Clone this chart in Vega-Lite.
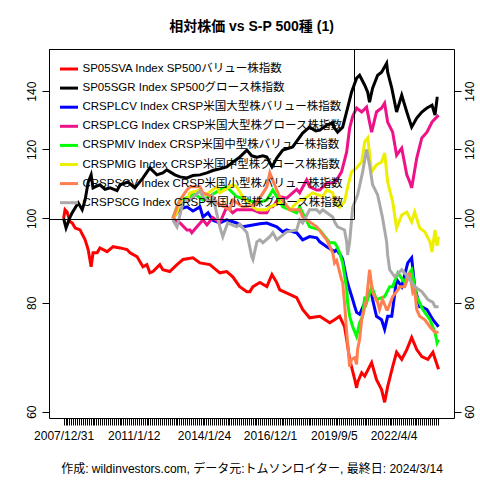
{
  "$schema": "https://vega.github.io/schema/vega-lite/v6.json",
  "width": 405,
  "height": 369,
  "autosize": "none",
  "padding": {"left": 49, "top": 49, "right": 26, "bottom": 62},
  "background": "white",
  "config": {
    "view": {"stroke": "black", "strokeWidth": 1},
    "font": "Liberation Sans, Noto Sans CJK JP"
  },
  "title": {
    "text": "相対株価 vs S-P 500種 (1)",
    "fontSize": 14,
    "fontWeight": "bold",
    "color": "black",
    "offset": 15
  },
  "datasets": {
    "rel": [
      {"d": "2007-12-31", "s": "SP05SVA", "v": 100},
      {"d": "2008-01-23", "s": "SP05SVA", "v": 102.3},
      {"d": "2008-02-24", "s": "SP05SVA", "v": 101.7},
      {"d": "2008-04-12", "s": "SP05SVA", "v": 99.1},
      {"d": "2008-05-15", "s": "SP05SVA", "v": 98.8},
      {"d": "2008-07-02", "s": "SP05SVA", "v": 97.5},
      {"d": "2008-09-16", "s": "SP05SVA", "v": 97.0},
      {"d": "2008-12-05", "s": "SP05SVA", "v": 94.5},
      {"d": "2009-01-22", "s": "SP05SVA", "v": 92.1},
      {"d": "2009-03-10", "s": "SP05SVA", "v": 88.0},
      {"d": "2009-04-09", "s": "SP05SVA", "v": 91.3},
      {"d": "2009-06-13", "s": "SP05SVA", "v": 91.3},
      {"d": "2009-07-27", "s": "SP05SVA", "v": 92.5},
      {"d": "2009-11-17", "s": "SP05SVA", "v": 91.6},
      {"d": "2010-02-20", "s": "SP05SVA", "v": 92.8},
      {"d": "2010-06-10", "s": "SP05SVA", "v": 92.5},
      {"d": "2010-09-27", "s": "SP05SVA", "v": 92.1},
      {"d": "2010-11-14", "s": "SP05SVA", "v": 91.3},
      {"d": "2011-03-03", "s": "SP05SVA", "v": 90.4},
      {"d": "2011-06-06", "s": "SP05SVA", "v": 88.0},
      {"d": "2011-08-07", "s": "SP05SVA", "v": 88.5},
      {"d": "2011-09-23", "s": "SP05SVA", "v": 86.6},
      {"d": "2011-11-10", "s": "SP05SVA", "v": 86.9},
      {"d": "2012-02-27", "s": "SP05SVA", "v": 88.5},
      {"d": "2012-04-15", "s": "SP05SVA", "v": 87.3},
      {"d": "2012-08-02", "s": "SP05SVA", "v": 86.9},
      {"d": "2012-11-24", "s": "SP05SVA", "v": 88.5},
      {"d": "2013-02-27", "s": "SP05SVA", "v": 89.7},
      {"d": "2013-08-03", "s": "SP05SVA", "v": 90.1},
      {"d": "2013-11-21", "s": "SP05SVA", "v": 88.9},
      {"d": "2014-04-27", "s": "SP05SVA", "v": 88.5},
      {"d": "2014-10-01", "s": "SP05SVA", "v": 86.6},
      {"d": "2015-01-18", "s": "SP05SVA", "v": 86.9},
      {"d": "2015-04-23", "s": "SP05SVA", "v": 85.7},
      {"d": "2015-08-11", "s": "SP05SVA", "v": 83.5},
      {"d": "2015-12-02", "s": "SP05SVA", "v": 82.4},
      {"d": "2016-01-18", "s": "SP05SVA", "v": 82.4},
      {"d": "2016-03-07", "s": "SP05SVA", "v": 83.5},
      {"d": "2016-06-24", "s": "SP05SVA", "v": 84.4},
      {"d": "2016-10-12", "s": "SP05SVA", "v": 83.5},
      {"d": "2017-01-01", "s": "SP05SVA", "v": 86.2},
      {"d": "2017-03-18", "s": "SP05SVA", "v": 84.4},
      {"d": "2017-05-04", "s": "SP05SVA", "v": 82.8},
      {"d": "2017-10-08", "s": "SP05SVA", "v": 81.8},
      {"d": "2018-01-26", "s": "SP05SVA", "v": 81.1},
      {"d": "2018-04-30", "s": "SP05SVA", "v": 78.6},
      {"d": "2018-08-18", "s": "SP05SVA", "v": 76.9},
      {"d": "2019-01-26", "s": "SP05SVA", "v": 77.2},
      {"d": "2019-07-02", "s": "SP05SVA", "v": 75.9},
      {"d": "2019-09-16", "s": "SP05SVA", "v": 76.5},
      {"d": "2019-12-05", "s": "SP05SVA", "v": 77.2},
      {"d": "2020-02-20", "s": "SP05SVA", "v": 75.1},
      {"d": "2020-03-25", "s": "SP05SVA", "v": 72.6},
      {"d": "2020-05-11", "s": "SP05SVA", "v": 68.9},
      {"d": "2020-07-31", "s": "SP05SVA", "v": 65.3},
      {"d": "2020-08-29", "s": "SP05SVA", "v": 63.9},
      {"d": "2020-09-13", "s": "SP05SVA", "v": 64.8},
      {"d": "2020-11-17", "s": "SP05SVA", "v": 66.5},
      {"d": "2021-01-04", "s": "SP05SVA", "v": 65.9},
      {"d": "2021-04-23", "s": "SP05SVA", "v": 68.3},
      {"d": "2021-07-09", "s": "SP05SVA", "v": 65.3},
      {"d": "2021-09-27", "s": "SP05SVA", "v": 63.6},
      {"d": "2021-11-14", "s": "SP05SVA", "v": 61.5},
      {"d": "2022-01-01", "s": "SP05SVA", "v": 64.1},
      {"d": "2022-03-21", "s": "SP05SVA", "v": 67.6},
      {"d": "2022-05-22", "s": "SP05SVA", "v": 70.2},
      {"d": "2022-08-11", "s": "SP05SVA", "v": 68.9},
      {"d": "2022-10-30", "s": "SP05SVA", "v": 70.7},
      {"d": "2023-01-15", "s": "SP05SVA", "v": 73.0},
      {"d": "2023-04-05", "s": "SP05SVA", "v": 70.7},
      {"d": "2023-06-24", "s": "SP05SVA", "v": 69.4},
      {"d": "2023-09-27", "s": "SP05SVA", "v": 68.9},
      {"d": "2023-12-16", "s": "SP05SVA", "v": 70.2},
      {"d": "2024-03-14", "s": "SP05SVA", "v": 67.1},

      {"d": "2007-12-31", "s": "SP05SGR", "v": 100},
      {"d": "2008-02-08", "s": "SP05SGR", "v": 97.5},
      {"d": "2008-04-12", "s": "SP05SGR", "v": 100.4},
      {"d": "2008-05-15", "s": "SP05SGR", "v": 101.5},
      {"d": "2008-08-18", "s": "SP05SGR", "v": 104.2},
      {"d": "2008-10-20", "s": "SP05SGR", "v": 102.3},
      {"d": "2008-12-05", "s": "SP05SGR", "v": 105.0},
      {"d": "2009-01-22", "s": "SP05SGR", "v": 110.0},
      {"d": "2009-03-10", "s": "SP05SGR", "v": 112.2},
      {"d": "2009-04-09", "s": "SP05SGR", "v": 108.4},
      {"d": "2009-05-11", "s": "SP05SGR", "v": 108.7},
      {"d": "2009-07-27", "s": "SP05SGR", "v": 109.3},
      {"d": "2009-10-15", "s": "SP05SGR", "v": 108.0},
      {"d": "2010-01-04", "s": "SP05SGR", "v": 108.4},
      {"d": "2010-04-23", "s": "SP05SGR", "v": 107.6},
      {"d": "2010-06-10", "s": "SP05SGR", "v": 109.3},
      {"d": "2010-10-12", "s": "SP05SGR", "v": 110.1},
      {"d": "2011-01-29", "s": "SP05SGR", "v": 108.4},
      {"d": "2011-06-06", "s": "SP05SGR", "v": 111.3},
      {"d": "2011-09-23", "s": "SP05SGR", "v": 114.3},
      {"d": "2012-01-11", "s": "SP05SGR", "v": 112.2},
      {"d": "2012-04-15", "s": "SP05SGR", "v": 112.8},
      {"d": "2012-06-16", "s": "SP05SGR", "v": 113.7},
      {"d": "2012-10-22", "s": "SP05SGR", "v": 112.2},
      {"d": "2013-01-11", "s": "SP05SGR", "v": 111.6},
      {"d": "2013-04-30", "s": "SP05SGR", "v": 111.3},
      {"d": "2013-08-03", "s": "SP05SGR", "v": 112.0},
      {"d": "2013-11-21", "s": "SP05SGR", "v": 112.2},
      {"d": "2014-03-11", "s": "SP05SGR", "v": 112.8},
      {"d": "2014-06-13", "s": "SP05SGR", "v": 113.5},
      {"d": "2014-10-01", "s": "SP05SGR", "v": 114.0},
      {"d": "2015-01-18", "s": "SP05SGR", "v": 114.6},
      {"d": "2015-04-23", "s": "SP05SGR", "v": 116.0},
      {"d": "2015-08-11", "s": "SP05SGR", "v": 117.6},
      {"d": "2015-12-02", "s": "SP05SGR", "v": 119.8},
      {"d": "2016-02-16", "s": "SP05SGR", "v": 118.0},
      {"d": "2016-05-08", "s": "SP05SGR", "v": 117.6},
      {"d": "2016-08-11", "s": "SP05SGR", "v": 118.0},
      {"d": "2016-10-12", "s": "SP05SGR", "v": 117.6},
      {"d": "2017-01-01", "s": "SP05SGR", "v": 114.6},
      {"d": "2017-03-18", "s": "SP05SGR", "v": 117.3},
      {"d": "2017-06-21", "s": "SP05SGR", "v": 119.8},
      {"d": "2017-11-24", "s": "SP05SGR", "v": 120.8},
      {"d": "2018-04-30", "s": "SP05SGR", "v": 125.3},
      {"d": "2018-08-18", "s": "SP05SGR", "v": 127.3},
      {"d": "2018-11-24", "s": "SP05SGR", "v": 126.0},
      {"d": "2019-01-26", "s": "SP05SGR", "v": 126.3},
      {"d": "2019-05-15", "s": "SP05SGR", "v": 128.0},
      {"d": "2019-08-18", "s": "SP05SGR", "v": 128.7},
      {"d": "2019-09-16", "s": "SP05SGR", "v": 127.0},
      {"d": "2019-11-03", "s": "SP05SGR", "v": 125.6},
      {"d": "2020-01-22", "s": "SP05SGR", "v": 127.3},
      {"d": "2020-04-09", "s": "SP05SGR", "v": 133.9},
      {"d": "2020-06-10", "s": "SP05SGR", "v": 139.6},
      {"d": "2020-08-29", "s": "SP05SGR", "v": 144.9},
      {"d": "2020-10-15", "s": "SP05SGR", "v": 146.0},
      {"d": "2021-01-04", "s": "SP05SGR", "v": 142.2},
      {"d": "2021-02-20", "s": "SP05SGR", "v": 139.6},
      {"d": "2021-03-21", "s": "SP05SGR", "v": 136.0},
      {"d": "2021-05-08", "s": "SP05SGR", "v": 141.1},
      {"d": "2021-07-27", "s": "SP05SGR", "v": 146.0},
      {"d": "2021-09-27", "s": "SP05SGR", "v": 147.2},
      {"d": "2021-12-16", "s": "SP05SGR", "v": 150.7},
      {"d": "2022-01-01", "s": "SP05SGR", "v": 147.2},
      {"d": "2022-03-07", "s": "SP05SGR", "v": 141.1},
      {"d": "2022-05-22", "s": "SP05SGR", "v": 132.5},
      {"d": "2022-08-11", "s": "SP05SGR", "v": 138.5},
      {"d": "2022-10-30", "s": "SP05SGR", "v": 132.5},
      {"d": "2023-01-15", "s": "SP05SGR", "v": 127.3},
      {"d": "2023-04-05", "s": "SP05SGR", "v": 130.4},
      {"d": "2023-06-24", "s": "SP05SGR", "v": 132.5},
      {"d": "2023-09-13", "s": "SP05SGR", "v": 133.9},
      {"d": "2023-12-02", "s": "SP05SGR", "v": 134.9},
      {"d": "2024-01-18", "s": "SP05SGR", "v": 131.4},
      {"d": "2024-02-20", "s": "SP05SGR", "v": 137.4},
      {"d": "2024-03-14", "s": "SP05SGR", "v": 137.4},

      {"d": "2012-09-19", "s": "CRSPLCV", "v": 100},
      {"d": "2013-01-11", "s": "CRSPLCV", "v": 102.5},
      {"d": "2013-04-30", "s": "CRSPLCV", "v": 103.1},
      {"d": "2013-08-03", "s": "CRSPLCV", "v": 102.0},
      {"d": "2013-11-21", "s": "CRSPLCV", "v": 103.1},
      {"d": "2014-01-08", "s": "CRSPLCV", "v": 100.4},
      {"d": "2014-03-29", "s": "CRSPLCV", "v": 101.5},
      {"d": "2014-06-13", "s": "CRSPLCV", "v": 99.5},
      {"d": "2014-10-01", "s": "CRSPLCV", "v": 98.8},
      {"d": "2015-01-18", "s": "CRSPLCV", "v": 99.6},
      {"d": "2015-06-24", "s": "CRSPLCV", "v": 98.8},
      {"d": "2015-09-27", "s": "CRSPLCV", "v": 97.8},
      {"d": "2016-03-07", "s": "CRSPLCV", "v": 98.3},
      {"d": "2016-06-24", "s": "CRSPLCV", "v": 98.6},
      {"d": "2016-10-12", "s": "CRSPLCV", "v": 98.8},
      {"d": "2017-03-18", "s": "CRSPLCV", "v": 97.8},
      {"d": "2017-06-21", "s": "CRSPLCV", "v": 96.5},
      {"d": "2017-08-22", "s": "CRSPLCV", "v": 97.0},
      {"d": "2017-11-24", "s": "CRSPLCV", "v": 96.5},
      {"d": "2018-01-26", "s": "CRSPLCV", "v": 96.3},
      {"d": "2018-04-30", "s": "CRSPLCV", "v": 94.5},
      {"d": "2018-08-18", "s": "CRSPLCV", "v": 95.3},
      {"d": "2018-12-09", "s": "CRSPLCV", "v": 95.0},
      {"d": "2019-01-26", "s": "CRSPLCV", "v": 94.0},
      {"d": "2019-05-15", "s": "CRSPLCV", "v": 92.8},
      {"d": "2019-09-16", "s": "CRSPLCV", "v": 91.6},
      {"d": "2019-10-19", "s": "CRSPLCV", "v": 92.1},
      {"d": "2020-01-04", "s": "CRSPLCV", "v": 90.4},
      {"d": "2020-01-22", "s": "CRSPLCV", "v": 89.7},
      {"d": "2020-03-25", "s": "CRSPLCV", "v": 85.1},
      {"d": "2020-05-11", "s": "CRSPLCV", "v": 82.8},
      {"d": "2020-06-28", "s": "CRSPLCV", "v": 80.7},
      {"d": "2020-07-31", "s": "CRSPLCV", "v": 79.2},
      {"d": "2020-08-29", "s": "CRSPLCV", "v": 78.0},
      {"d": "2020-10-15", "s": "CRSPLCV", "v": 77.6},
      {"d": "2021-01-04", "s": "CRSPLCV", "v": 80.0},
      {"d": "2021-03-21", "s": "CRSPLCV", "v": 82.2},
      {"d": "2021-04-23", "s": "CRSPLCV", "v": 81.8},
      {"d": "2021-05-08", "s": "CRSPLCV", "v": 80.7},
      {"d": "2021-07-09", "s": "CRSPLCV", "v": 77.2},
      {"d": "2021-09-27", "s": "CRSPLCV", "v": 76.5},
      {"d": "2021-11-14", "s": "CRSPLCV", "v": 74.6},
      {"d": "2022-01-01", "s": "CRSPLCV", "v": 77.2},
      {"d": "2022-03-07", "s": "CRSPLCV", "v": 77.2},
      {"d": "2022-05-22", "s": "CRSPLCV", "v": 85.1},
      {"d": "2022-08-11", "s": "CRSPLCV", "v": 83.5},
      {"d": "2022-11-14", "s": "CRSPLCV", "v": 88.9},
      {"d": "2023-01-15", "s": "CRSPLCV", "v": 90.1},
      {"d": "2023-03-03", "s": "CRSPLCV", "v": 83.5},
      {"d": "2023-05-22", "s": "CRSPLCV", "v": 79.2},
      {"d": "2023-06-24", "s": "CRSPLCV", "v": 79.2},
      {"d": "2023-09-13", "s": "CRSPLCV", "v": 78.6},
      {"d": "2023-12-16", "s": "CRSPLCV", "v": 76.5},
      {"d": "2024-03-14", "s": "CRSPLCV", "v": 75.1},

      {"d": "2012-09-19", "s": "CRSPLCG", "v": 100},
      {"d": "2013-01-11", "s": "CRSPLCG", "v": 98.8},
      {"d": "2013-04-30", "s": "CRSPLCG", "v": 97.0},
      {"d": "2013-06-17", "s": "CRSPLCG", "v": 97.0},
      {"d": "2013-07-16", "s": "CRSPLCG", "v": 96.3},
      {"d": "2013-10-04", "s": "CRSPLCG", "v": 97.8},
      {"d": "2014-01-08", "s": "CRSPLCG", "v": 99.6},
      {"d": "2014-03-11", "s": "CRSPLCG", "v": 98.3},
      {"d": "2014-06-13", "s": "CRSPLCG", "v": 100.2},
      {"d": "2014-10-01", "s": "CRSPLCG", "v": 98.8},
      {"d": "2015-01-18", "s": "CRSPLCG", "v": 103.1},
      {"d": "2015-04-23", "s": "CRSPLCG", "v": 101.5},
      {"d": "2015-06-24", "s": "CRSPLCG", "v": 102.3},
      {"d": "2016-01-18", "s": "CRSPLCG", "v": 102.3},
      {"d": "2016-03-07", "s": "CRSPLCG", "v": 102.3},
      {"d": "2016-06-24", "s": "CRSPLCG", "v": 101.5},
      {"d": "2016-10-12", "s": "CRSPLCG", "v": 101.5},
      {"d": "2016-11-28", "s": "CRSPLCG", "v": 103.1},
      {"d": "2017-01-15", "s": "CRSPLCG", "v": 103.1},
      {"d": "2017-05-04", "s": "CRSPLCG", "v": 105.9},
      {"d": "2017-08-22", "s": "CRSPLCG", "v": 105.5},
      {"d": "2018-01-26", "s": "CRSPLCG", "v": 108.0},
      {"d": "2018-03-14", "s": "CRSPLCG", "v": 107.0},
      {"d": "2018-07-02", "s": "CRSPLCG", "v": 110.7},
      {"d": "2018-08-18", "s": "CRSPLCG", "v": 108.7},
      {"d": "2018-12-09", "s": "CRSPLCG", "v": 107.8},
      {"d": "2019-01-26", "s": "CRSPLCG", "v": 107.8},
      {"d": "2019-05-15", "s": "CRSPLCG", "v": 109.8},
      {"d": "2019-08-18", "s": "CRSPLCG", "v": 109.8},
      {"d": "2019-09-16", "s": "CRSPLCG", "v": 110.1},
      {"d": "2019-10-19", "s": "CRSPLCG", "v": 110.7},
      {"d": "2020-01-04", "s": "CRSPLCG", "v": 113.1},
      {"d": "2020-03-25", "s": "CRSPLCG", "v": 119.2},
      {"d": "2020-05-11", "s": "CRSPLCG", "v": 127.0},
      {"d": "2020-06-28", "s": "CRSPLCG", "v": 131.0},
      {"d": "2020-08-29", "s": "CRSPLCG", "v": 133.9},
      {"d": "2020-11-17", "s": "CRSPLCG", "v": 132.5},
      {"d": "2021-02-02", "s": "CRSPLCG", "v": 134.2},
      {"d": "2021-03-21", "s": "CRSPLCG", "v": 129.0},
      {"d": "2021-04-23", "s": "CRSPLCG", "v": 125.6},
      {"d": "2021-07-09", "s": "CRSPLCG", "v": 132.5},
      {"d": "2021-09-27", "s": "CRSPLCG", "v": 133.9},
      {"d": "2021-11-14", "s": "CRSPLCG", "v": 135.6},
      {"d": "2022-01-01", "s": "CRSPLCG", "v": 129.0},
      {"d": "2022-03-21", "s": "CRSPLCG", "v": 125.6},
      {"d": "2022-05-22", "s": "CRSPLCG", "v": 118.2},
      {"d": "2022-08-11", "s": "CRSPLCG", "v": 120.4},
      {"d": "2022-10-30", "s": "CRSPLCG", "v": 112.2},
      {"d": "2022-12-16", "s": "CRSPLCG", "v": 110.1},
      {"d": "2023-01-15", "s": "CRSPLCG", "v": 108.4},
      {"d": "2023-04-05", "s": "CRSPLCG", "v": 117.3},
      {"d": "2023-06-24", "s": "CRSPLCG", "v": 123.7},
      {"d": "2023-09-13", "s": "CRSPLCG", "v": 125.6},
      {"d": "2023-12-02", "s": "CRSPLCG", "v": 129.0},
      {"d": "2024-03-14", "s": "CRSPLCG", "v": 131.4},

      {"d": "2012-09-19", "s": "CRSPMIV", "v": 100},
      {"d": "2012-11-24", "s": "CRSPMIV", "v": 103.1},
      {"d": "2013-01-11", "s": "CRSPMIV", "v": 105.0},
      {"d": "2013-06-17", "s": "CRSPMIV", "v": 105.9},
      {"d": "2013-08-03", "s": "CRSPMIV", "v": 107.0},
      {"d": "2014-01-08", "s": "CRSPMIV", "v": 105.0},
      {"d": "2014-10-01", "s": "CRSPMIV", "v": 107.8},
      {"d": "2015-01-18", "s": "CRSPMIV", "v": 108.7},
      {"d": "2015-06-24", "s": "CRSPMIV", "v": 105.9},
      {"d": "2016-05-08", "s": "CRSPMIV", "v": 104.2},
      {"d": "2016-10-12", "s": "CRSPMIV", "v": 105.0},
      {"d": "2017-01-15", "s": "CRSPMIV", "v": 107.8},
      {"d": "2017-06-21", "s": "CRSPMIV", "v": 103.1},
      {"d": "2018-01-26", "s": "CRSPMIV", "v": 101.5},
      {"d": "2018-03-14", "s": "CRSPMIV", "v": 103.1},
      {"d": "2018-08-18", "s": "CRSPMIV", "v": 97.8},
      {"d": "2019-01-26", "s": "CRSPMIV", "v": 97.0},
      {"d": "2019-07-02", "s": "CRSPMIV", "v": 93.8},
      {"d": "2019-09-16", "s": "CRSPMIV", "v": 93.8},
      {"d": "2019-10-19", "s": "CRSPMIV", "v": 93.0},
      {"d": "2019-12-05", "s": "CRSPMIV", "v": 91.3},
      {"d": "2020-01-22", "s": "CRSPMIV", "v": 88.9},
      {"d": "2020-03-25", "s": "CRSPMIV", "v": 83.0},
      {"d": "2020-04-09", "s": "CRSPMIV", "v": 80.1},
      {"d": "2020-05-11", "s": "CRSPMIV", "v": 77.2},
      {"d": "2020-06-28", "s": "CRSPMIV", "v": 75.1},
      {"d": "2020-08-29", "s": "CRSPMIV", "v": 73.2},
      {"d": "2020-10-15", "s": "CRSPMIV", "v": 75.9},
      {"d": "2020-12-02", "s": "CRSPMIV", "v": 77.2},
      {"d": "2021-01-04", "s": "CRSPMIV", "v": 81.3},
      {"d": "2021-02-02", "s": "CRSPMIV", "v": 80.0},
      {"d": "2021-04-23", "s": "CRSPMIV", "v": 83.5},
      {"d": "2021-07-09", "s": "CRSPMIV", "v": 80.7},
      {"d": "2021-11-14", "s": "CRSPMIV", "v": 81.3},
      {"d": "2022-02-02", "s": "CRSPMIV", "v": 83.5},
      {"d": "2022-03-21", "s": "CRSPMIV", "v": 83.5},
      {"d": "2022-06-10", "s": "CRSPMIV", "v": 86.6},
      {"d": "2022-09-27", "s": "CRSPMIV", "v": 84.4},
      {"d": "2022-10-30", "s": "CRSPMIV", "v": 85.7},
      {"d": "2023-01-15", "s": "CRSPMIV", "v": 87.3},
      {"d": "2023-04-05", "s": "CRSPMIV", "v": 81.3},
      {"d": "2023-07-09", "s": "CRSPMIV", "v": 78.6},
      {"d": "2023-10-30", "s": "CRSPMIV", "v": 76.5},
      {"d": "2024-01-18", "s": "CRSPMIV", "v": 74.0},
      {"d": "2024-02-20", "s": "CRSPMIV", "v": 72.0},
      {"d": "2024-03-14", "s": "CRSPMIV", "v": 72.6},

      {"d": "2012-09-19", "s": "CRSPMIG", "v": 100},
      {"d": "2012-11-24", "s": "CRSPMIG", "v": 101.5},
      {"d": "2013-01-11", "s": "CRSPMIG", "v": 104.2},
      {"d": "2013-04-30", "s": "CRSPMIG", "v": 105.0},
      {"d": "2013-06-17", "s": "CRSPMIG", "v": 107.0},
      {"d": "2013-11-21", "s": "CRSPMIG", "v": 107.8},
      {"d": "2014-01-08", "s": "CRSPMIG", "v": 105.9},
      {"d": "2014-08-14", "s": "CRSPMIG", "v": 108.7},
      {"d": "2014-10-01", "s": "CRSPMIG", "v": 107.0},
      {"d": "2015-04-23", "s": "CRSPMIG", "v": 109.3},
      {"d": "2015-06-24", "s": "CRSPMIG", "v": 108.7},
      {"d": "2015-09-27", "s": "CRSPMIG", "v": 105.9},
      {"d": "2016-03-07", "s": "CRSPMIG", "v": 103.1},
      {"d": "2016-05-08", "s": "CRSPMIG", "v": 102.3},
      {"d": "2016-10-12", "s": "CRSPMIG", "v": 102.3},
      {"d": "2016-11-28", "s": "CRSPMIG", "v": 103.1},
      {"d": "2017-05-04", "s": "CRSPMIG", "v": 104.2},
      {"d": "2017-06-21", "s": "CRSPMIG", "v": 105.0},
      {"d": "2017-10-08", "s": "CRSPMIG", "v": 102.3},
      {"d": "2018-03-14", "s": "CRSPMIG", "v": 105.0},
      {"d": "2018-04-30", "s": "CRSPMIG", "v": 105.0},
      {"d": "2018-10-04", "s": "CRSPMIG", "v": 107.0},
      {"d": "2019-03-14", "s": "CRSPMIG", "v": 105.9},
      {"d": "2019-05-15", "s": "CRSPMIG", "v": 107.8},
      {"d": "2019-08-18", "s": "CRSPMIG", "v": 107.0},
      {"d": "2019-09-16", "s": "CRSPMIG", "v": 104.5},
      {"d": "2019-12-05", "s": "CRSPMIG", "v": 103.0},
      {"d": "2020-02-20", "s": "CRSPMIG", "v": 104.5},
      {"d": "2020-04-09", "s": "CRSPMIG", "v": 108.7},
      {"d": "2020-06-10", "s": "CRSPMIG", "v": 113.1},
      {"d": "2020-08-29", "s": "CRSPMIG", "v": 114.3},
      {"d": "2020-11-17", "s": "CRSPMIG", "v": 116.1},
      {"d": "2021-01-04", "s": "CRSPMIG", "v": 122.4},
      {"d": "2021-02-20", "s": "CRSPMIG", "v": 123.7},
      {"d": "2021-04-23", "s": "CRSPMIG", "v": 113.1},
      {"d": "2021-07-09", "s": "CRSPMIG", "v": 115.2},
      {"d": "2021-09-27", "s": "CRSPMIG", "v": 116.1},
      {"d": "2021-11-14", "s": "CRSPMIG", "v": 118.9},
      {"d": "2022-01-01", "s": "CRSPMIG", "v": 110.1},
      {"d": "2022-03-21", "s": "CRSPMIG", "v": 104.5},
      {"d": "2022-05-22", "s": "CRSPMIG", "v": 97.5},
      {"d": "2022-08-11", "s": "CRSPMIG", "v": 100.9},
      {"d": "2022-10-30", "s": "CRSPMIG", "v": 101.7},
      {"d": "2023-01-15", "s": "CRSPMIG", "v": 99.1},
      {"d": "2023-03-03", "s": "CRSPMIG", "v": 101.7},
      {"d": "2023-05-22", "s": "CRSPMIG", "v": 97.5},
      {"d": "2023-08-11", "s": "CRSPMIG", "v": 96.5},
      {"d": "2023-10-30", "s": "CRSPMIG", "v": 94.0},
      {"d": "2023-12-02", "s": "CRSPMIG", "v": 91.5},
      {"d": "2024-01-18", "s": "CRSPMIG", "v": 97.0},
      {"d": "2024-02-20", "s": "CRSPMIG", "v": 93.0},
      {"d": "2024-03-14", "s": "CRSPMIG", "v": 95.3},

      {"d": "2012-09-19", "s": "CRSPSCV", "v": 100},
      {"d": "2012-11-24", "s": "CRSPSCV", "v": 103.0},
      {"d": "2013-01-11", "s": "CRSPSCV", "v": 105.0},
      {"d": "2013-04-30", "s": "CRSPSCV", "v": 107.8},
      {"d": "2013-06-17", "s": "CRSPSCV", "v": 108.7},
      {"d": "2013-11-21", "s": "CRSPSCV", "v": 108.7},
      {"d": "2014-01-08", "s": "CRSPSCV", "v": 107.0},
      {"d": "2014-06-13", "s": "CRSPSCV", "v": 105.9},
      {"d": "2014-08-14", "s": "CRSPSCV", "v": 104.2},
      {"d": "2015-03-07", "s": "CRSPSCV", "v": 102.3},
      {"d": "2015-04-23", "s": "CRSPSCV", "v": 105.0},
      {"d": "2015-09-27", "s": "CRSPSCV", "v": 103.1},
      {"d": "2016-03-07", "s": "CRSPSCV", "v": 103.5},
      {"d": "2016-05-08", "s": "CRSPSCV", "v": 104.2},
      {"d": "2016-10-12", "s": "CRSPSCV", "v": 108.7},
      {"d": "2016-11-28", "s": "CRSPSCV", "v": 112.8},
      {"d": "2017-03-18", "s": "CRSPSCV", "v": 107.8},
      {"d": "2017-05-04", "s": "CRSPSCV", "v": 105.9},
      {"d": "2017-10-08", "s": "CRSPSCV", "v": 102.3},
      {"d": "2018-03-14", "s": "CRSPSCV", "v": 102.3},
      {"d": "2018-04-30", "s": "CRSPSCV", "v": 100.4},
      {"d": "2018-12-09", "s": "CRSPSCV", "v": 97.8},
      {"d": "2019-05-15", "s": "CRSPSCV", "v": 94.5},
      {"d": "2019-08-18", "s": "CRSPSCV", "v": 91.3},
      {"d": "2019-09-16", "s": "CRSPSCV", "v": 88.9},
      {"d": "2019-10-19", "s": "CRSPSCV", "v": 89.5},
      {"d": "2020-01-04", "s": "CRSPSCV", "v": 85.1},
      {"d": "2020-01-22", "s": "CRSPSCV", "v": 84.4},
      {"d": "2020-02-20", "s": "CRSPSCV", "v": 80.1},
      {"d": "2020-03-25", "s": "CRSPSCV", "v": 74.0},
      {"d": "2020-04-09", "s": "CRSPSCV", "v": 72.0},
      {"d": "2020-05-11", "s": "CRSPSCV", "v": 67.6},
      {"d": "2020-06-10", "s": "CRSPSCV", "v": 68.9},
      {"d": "2020-07-31", "s": "CRSPSCV", "v": 69.2},
      {"d": "2020-08-29", "s": "CRSPSCV", "v": 68.0},
      {"d": "2020-09-13", "s": "CRSPSCV", "v": 70.7},
      {"d": "2020-10-15", "s": "CRSPSCV", "v": 72.6},
      {"d": "2020-11-17", "s": "CRSPSCV", "v": 76.5},
      {"d": "2021-02-02", "s": "CRSPSCV", "v": 80.7},
      {"d": "2021-03-21", "s": "CRSPSCV", "v": 87.3},
      {"d": "2021-05-08", "s": "CRSPSCV", "v": 82.2},
      {"d": "2021-07-27", "s": "CRSPSCV", "v": 80.1},
      {"d": "2021-08-25", "s": "CRSPSCV", "v": 78.6},
      {"d": "2021-10-12", "s": "CRSPSCV", "v": 80.7},
      {"d": "2021-12-16", "s": "CRSPSCV", "v": 78.6},
      {"d": "2022-01-01", "s": "CRSPSCV", "v": 78.6},
      {"d": "2022-03-21", "s": "CRSPSCV", "v": 81.3},
      {"d": "2022-06-10", "s": "CRSPSCV", "v": 82.8},
      {"d": "2022-07-09", "s": "CRSPSCV", "v": 83.5},
      {"d": "2022-09-27", "s": "CRSPSCV", "v": 83.5},
      {"d": "2022-12-16", "s": "CRSPSCV", "v": 86.6},
      {"d": "2023-02-02", "s": "CRSPSCV", "v": 82.2},
      {"d": "2023-03-03", "s": "CRSPSCV", "v": 82.8},
      {"d": "2023-04-05", "s": "CRSPSCV", "v": 78.6},
      {"d": "2023-05-22", "s": "CRSPSCV", "v": 77.2},
      {"d": "2023-08-11", "s": "CRSPSCV", "v": 76.5},
      {"d": "2023-10-30", "s": "CRSPSCV", "v": 75.1},
      {"d": "2024-01-18", "s": "CRSPSCV", "v": 74.0},
      {"d": "2024-03-14", "s": "CRSPSCV", "v": 74.0},

      {"d": "2012-09-19", "s": "CRSPSCG", "v": 99.6},
      {"d": "2012-11-24", "s": "CRSPSCG", "v": 97.8},
      {"d": "2013-02-27", "s": "CRSPSCG", "v": 104.2},
      {"d": "2013-04-30", "s": "CRSPSCG", "v": 105.0},
      {"d": "2013-06-17", "s": "CRSPSCG", "v": 105.0},
      {"d": "2013-11-21", "s": "CRSPSCG", "v": 107.5},
      {"d": "2014-01-08", "s": "CRSPSCG", "v": 105.9},
      {"d": "2014-04-27", "s": "CRSPSCG", "v": 104.2},
      {"d": "2014-06-13", "s": "CRSPSCG", "v": 106.0},
      {"d": "2014-10-01", "s": "CRSPSCG", "v": 97.8},
      {"d": "2014-11-17", "s": "CRSPSCG", "v": 95.3},
      {"d": "2015-02-02", "s": "CRSPSCG", "v": 98.8},
      {"d": "2015-06-24", "s": "CRSPSCG", "v": 97.8},
      {"d": "2015-08-11", "s": "CRSPSCG", "v": 98.5},
      {"d": "2015-12-02", "s": "CRSPSCG", "v": 96.3},
      {"d": "2016-02-16", "s": "CRSPSCG", "v": 90.4},
      {"d": "2016-03-07", "s": "CRSPSCG", "v": 89.7},
      {"d": "2016-05-08", "s": "CRSPSCG", "v": 94.0},
      {"d": "2016-06-24", "s": "CRSPSCG", "v": 94.5},
      {"d": "2016-08-11", "s": "CRSPSCG", "v": 93.8},
      {"d": "2016-11-28", "s": "CRSPSCG", "v": 95.3},
      {"d": "2017-01-15", "s": "CRSPSCG", "v": 96.3},
      {"d": "2017-03-18", "s": "CRSPSCG", "v": 94.5},
      {"d": "2017-08-22", "s": "CRSPSCG", "v": 96.5},
      {"d": "2018-01-26", "s": "CRSPSCG", "v": 97.0},
      {"d": "2018-03-14", "s": "CRSPSCG", "v": 99.6},
      {"d": "2018-04-30", "s": "CRSPSCG", "v": 98.8},
      {"d": "2018-08-18", "s": "CRSPSCG", "v": 102.3},
      {"d": "2018-12-09", "s": "CRSPSCG", "v": 102.3},
      {"d": "2019-01-26", "s": "CRSPSCG", "v": 101.5},
      {"d": "2019-03-14", "s": "CRSPSCG", "v": 102.3},
      {"d": "2019-08-18", "s": "CRSPSCG", "v": 100.4},
      {"d": "2019-09-16", "s": "CRSPSCG", "v": 99.1},
      {"d": "2019-11-03", "s": "CRSPSCG", "v": 97.8},
      {"d": "2020-02-20", "s": "CRSPSCG", "v": 97.0},
      {"d": "2020-03-25", "s": "CRSPSCG", "v": 94.0},
      {"d": "2020-04-09", "s": "CRSPSCG", "v": 90.8},
      {"d": "2020-05-11", "s": "CRSPSCG", "v": 94.0},
      {"d": "2020-06-28", "s": "CRSPSCG", "v": 103.0},
      {"d": "2020-09-13", "s": "CRSPSCG", "v": 106.4},
      {"d": "2020-12-02", "s": "CRSPSCG", "v": 113.1},
      {"d": "2021-02-02", "s": "CRSPSCG", "v": 120.0},
      {"d": "2021-03-21", "s": "CRSPSCG", "v": 115.2},
      {"d": "2021-05-08", "s": "CRSPSCG", "v": 109.3},
      {"d": "2021-07-27", "s": "CRSPSCG", "v": 106.4},
      {"d": "2021-10-12", "s": "CRSPSCG", "v": 100.2},
      {"d": "2021-12-16", "s": "CRSPSCG", "v": 94.0},
      {"d": "2022-01-01", "s": "CRSPSCG", "v": 90.8},
      {"d": "2022-02-02", "s": "CRSPSCG", "v": 87.3},
      {"d": "2022-04-23", "s": "CRSPSCG", "v": 85.7},
      {"d": "2022-08-11", "s": "CRSPSCG", "v": 87.3},
      {"d": "2022-11-14", "s": "CRSPSCG", "v": 85.7},
      {"d": "2023-03-03", "s": "CRSPSCG", "v": 83.5},
      {"d": "2023-06-24", "s": "CRSPSCG", "v": 82.4},
      {"d": "2023-09-27", "s": "CRSPSCG", "v": 80.7},
      {"d": "2023-12-16", "s": "CRSPSCG", "v": 80.1},
      {"d": "2024-01-18", "s": "CRSPSCG", "v": 79.2},
      {"d": "2024-03-14", "s": "CRSPSCG", "v": 79.2}
    ]
  },
  "data": {"name": "rel"},
  "layer": [
    {
      "mark": {"type": "line", "strokeWidth": 3},
      "encoding": {
        "x": {
          "field": "d",
          "type": "temporal",
          "scale": {
            "type": "utc",
            "domain": [
              {"year": 2007, "month": 5, "date": 15, "utc": true},
              {"year": 2024, "month": 11, "date": 13, "utc": true}
            ]
          },
          "axis": {
            "values": [
              {"year": 2007, "month": 12, "date": 31, "utc": true},
              {"year": 2011, "month": 1, "date": 12, "utc": true},
              {"year": 2014, "month": 1, "date": 24, "utc": true},
              {"year": 2016, "month": 12, "date": 1, "utc": true},
              {"year": 2019, "month": 9, "date": 5, "utc": true},
              {"year": 2022, "month": 4, "date": 4, "utc": true}
            ],
            "format": "%Y/%-m/%-d",
            "ticks": false,
            "tickSize": 0,
            "domain": false,
            "grid": false,
            "labelFontSize": 12,
            "labelColor": "black",
            "labelPadding": 12,
            "labelFlush": false,
            "labelOverlap": false,
            "title": "作成: wildinvestors.com, データ元:トムソンロイター, 最終日: 2024/3/14",
            "titleFontSize": 12,
            "titleFontWeight": "normal",
            "titleColor": "black",
            "titlePadding": 22
          }
        },
        "y": {
          "field": "v",
          "type": "quantitative",
          "scale": {"type": "log", "domain": [59, 156.5]},
          "axis": {
            "values": [60, 80, 100, 120, 140],
            "grid": false,
            "domain": false,
            "tickSize": 7,
            "tickColor": "black",
            "labelAngle": -90,
            "labelAlign": "center",
            "labelBaseline": "bottom",
            "labelPadding": 4,
            "labelFontSize": 12,
            "labelColor": "black",
            "title": null
          }
        },
        "color": {
          "field": "s",
          "type": "nominal",
          "scale": {
            "domain": ["SP05SVA", "SP05SGR", "CRSPLCV", "CRSPLCG", "CRSPMIV", "CRSPMIG", "CRSPSCV", "CRSPSCG"],
            "range": ["#FF0000", "#000000", "#0000FF", "#EE1289", "#00FF00", "#EEEE00", "#FF7F50", "#A9A9A9"]
          },
          "legend": {
            "orient": "top-left",
            "offset": 0,
            "title": null,
            "strokeColor": "black",
            "padding": 9.5,
            "symbolType": "stroke",
            "symbolSize": 324,
            "symbolStrokeWidth": 3,
            "rowPadding": 2.1,
            "labelFontSize": 11.5,
            "labelOffset": 3,
            "labelLimit": 400,
            "labelColor": "black",
            "labelExpr": "{'SP05SVA': 'SP05SVA Index SP500バリュー株指数', 'SP05SGR': 'SP05SGR Index SP500グロース株指数', 'CRSPLCV': 'CRSPLCV Index CRSP米国大型株バリュー株指数', 'CRSPLCG': 'CRSPLCG Index CRSP米国大型株グロース株指数', 'CRSPMIV': 'CRSPMIV Index CRSP米国中型株バリュー株指数', 'CRSPMIG': 'CRSPMIG Index CRSP米国中型株グロース株指数', 'CRSPSCV': 'CRSPSCV Index CRSP米国小型株バリュー株指数', 'CRSPSCG': 'CRSPSCG Index CRSP米国小型株グロース株指数'}[datum.label]"
          }
        }
      }
    },
    {
      "mark": {"type": "point", "opacity": 0},
      "encoding": {
        "x": {
          "field": "d",
          "type": "temporal",
          "scale": {
            "type": "utc",
            "domain": [
              {"year": 2007, "month": 5, "date": 15, "utc": true},
              {"year": 2024, "month": 11, "date": 13, "utc": true}
            ]
          },
          "axis": {
            "orient": "bottom",
            "tickCount": {"interval": "month", "step": 1},
            "labels": false,
            "domain": false,
            "grid": false,
            "tickSize": 7,
            "tickColor": "black",
            "tickOpacity": {
              "condition": {"test": "datum.value < utc(2007, 11, 25) || datum.value > utc(2024, 2, 20)", "value": 0},
              "value": 1
            },
            "title": null
          }
        },
        "y": {
          "field": "v",
          "type": "quantitative",
          "scale": {"type": "log", "domain": [59, 156.5]},
          "axis": {
            "orient": "right",
            "values": [60, 80, 100, 120, 140],
            "grid": false,
            "domain": false,
            "tickSize": 7,
            "tickColor": "black",
            "labelAngle": -90,
            "labelAlign": "center",
            "labelBaseline": "top",
            "labelPadding": 3,
            "labelFontSize": 12,
            "labelColor": "black",
            "title": null
          }
        }
      }
    }
  ],
  "resolve": {"axis": {"x": "independent", "y": "independent"}}
}
